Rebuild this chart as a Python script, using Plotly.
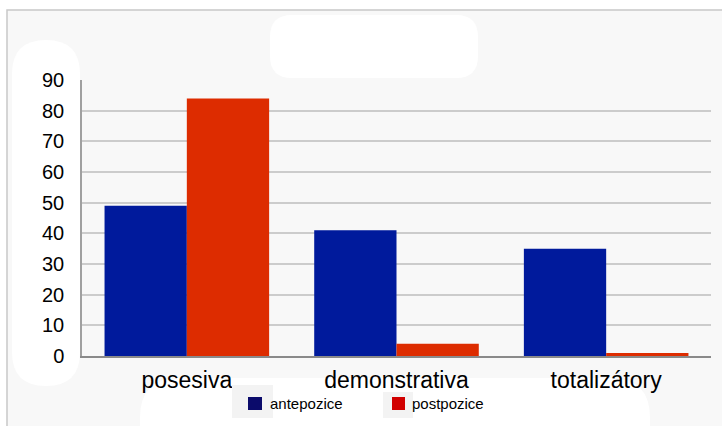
import plotly.graph_objects as go

categories = ["posesiva", "demonstrativa", "totalizátory"]
antepozice = [49, 41, 35]
postpozice = [84, 4, 1]
y_ticks = [0, 10, 20, 30, 40, 50, 60, 70, 80, 90]
series_names = ["antepozice", "postpozice"]

BLUE = "#001a9c"
RED = "#dd2c00"
KEY_COLORS = ["#0b0b6b", "#d10000"]
FONT = "Liberation Sans, Arial, sans-serif"

# plot area in pixels: x 82..711, y 80..356
L, R, T, B = 82, 711, 80, 356


def px(x):
    return (x - L) / (R - L)


def py(y):
    return (B - y) / (B - T)


def rounded(x0, y0, x1, y1, r):
    """Rounded rectangle path in paper coordinates from pixel corners."""
    pts = [
        f"M {px(x0 + r)} {py(y0)}",
        f"L {px(x1 - r)} {py(y0)}",
        f"Q {px(x1)} {py(y0)} {px(x1)} {py(y0 + r)}",
        f"L {px(x1)} {py(y1 - r)}",
        f"Q {px(x1)} {py(y1)} {px(x1 - r)} {py(y1)}",
        f"L {px(x0 + r)} {py(y1)}",
        f"Q {px(x0)} {py(y1)} {px(x0)} {py(y1 - r)}",
        f"L {px(x0)} {py(y0 + r)}",
        f"Q {px(x0)} {py(y0)} {px(x0 + r)} {py(y0)}",
        "Z",
    ]
    return " ".join(pts)


fig = go.Figure()
fig.add_trace(go.Bar(name=series_names[0], x=categories, y=antepozice,
                     marker=dict(color=BLUE, line=dict(width=0)), showlegend=False))
fig.add_trace(go.Bar(name=series_names[1], x=categories, y=postpozice,
                     marker=dict(color=RED, line=dict(width=0)), showlegend=False))

shapes = []
# light panel with a thin grey frame behind the chart
shapes.append(dict(type="rect", xref="paper", yref="paper", layer="below",
                   x0=px(7), x1=px(740), y0=py(450), y1=py(10),
                   fillcolor="#f8f8f8", line=dict(color="#c8c8c8", width=1.5)))
# soft white patches on the panel
for (x0, y0, x1, y1, r) in [(270, 15, 478, 78, 22), (12, 40, 80, 386, 34),
                            (140, 378, 650, 470, 40)]:
    shapes.append(dict(type="path", xref="paper", yref="paper", layer="below",
                       path=rounded(x0, y0, x1, y1, r),
                       fillcolor="#ffffff", line=dict(width=0)))

# legend key: grey tiles with coloured squares and labels
key_tiles = [(232, 385, 273, 418), (383, 392, 413, 418)]
key_squares = [(248, 397, 262, 410), (392, 397, 405, 410)]
key_text_x = [268, 410]
annotations = []
for i, name in enumerate(series_names):
    tx0, ty0, tx1, ty1 = key_tiles[i]
    shapes.append(dict(type="rect", xref="paper", yref="paper", layer="above",
                       x0=px(tx0), x1=px(tx1), y0=py(ty1), y1=py(ty0),
                       fillcolor="#f3f3f3", line=dict(width=0)))
    sx0, sy0, sx1, sy1 = key_squares[i]
    shapes.append(dict(type="rect", xref="paper", yref="paper", layer="above",
                       x0=px(sx0), x1=px(sx1), y0=py(sy1), y1=py(sy0),
                       fillcolor=KEY_COLORS[i], line=dict(width=0)))
    annotations.append(dict(xref="paper", yref="paper", x=px(key_text_x[i]), y=py(404),
                            xanchor="left", yanchor="middle", showarrow=False,
                            text=name, font=dict(size=15, family=FONT, color="#000000")))

fig.update_layout(
    width=722, height=426,
    margin=dict(l=L, r=722 - R, t=T, b=426 - B, autoexpand=False),
    paper_bgcolor="#ffffff",
    plot_bgcolor="rgba(0,0,0,0)",
    barmode="group", bargap=0.215, bargroupgap=0,
    font=dict(family=FONT, color="#000000"),
    showlegend=False,
    shapes=shapes,
    annotations=annotations,
)
fig.update_xaxes(showgrid=False, showline=True, linecolor="#8a8a8a", linewidth=2,
                 tickfont=dict(size=23, family=FONT), ticks="", ticklabelstandoff=2)
fig.update_yaxes(range=[0, 90], tickvals=y_ticks, showgrid=True, gridcolor="#cccccc",
                 gridwidth=1.5, showline=True, linecolor="#a0a0a0", linewidth=1.5,
                 zeroline=False, tickfont=dict(size=20, family=FONT), ticks="",
                 ticklabelstandoff=12)

fig.write_html("out.html")
